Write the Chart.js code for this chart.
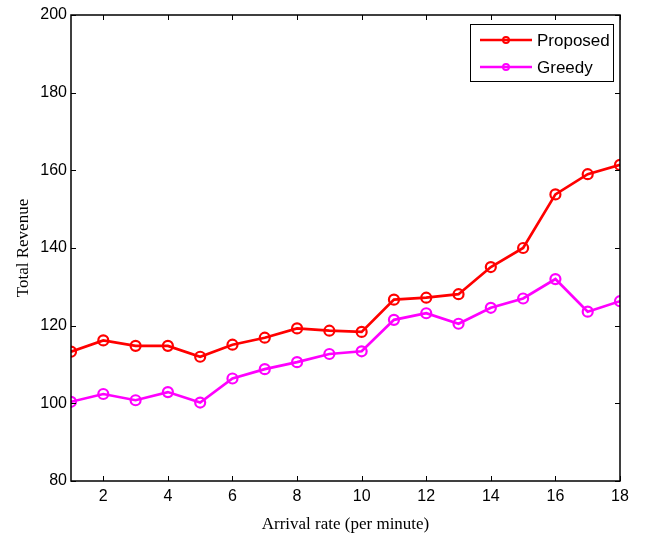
<!DOCTYPE html>
<html><head><meta charset="utf-8">
<script src="https://cdn.jsdelivr.net/npm/chart.js@4"></script>
<style>html,body{margin:0;padding:0;background:#fff}#wrap{width:649px;height:535px}</style>
</head><body><div id="wrap"><canvas id="c" width="649" height="535"></canvas></div>
<script>
const arrivalRates = [1,2,3,4,5,6,7,8,9,10,11,12,13,14,15,16,17,18];
const proposed = [113.3,116.2,114.8,114.8,112.0,115.1,116.9,119.3,118.7,118.4,126.7,127.2,128.1,135.1,140.0,153.8,159.0,161.4];
const greedy = [100.4,102.4,100.8,102.9,100.2,106.4,108.8,110.6,112.7,113.4,121.5,123.2,120.5,124.6,127.0,132.0,123.6,126.3];
const xTicks = [2,4,6,8,10,12,14,16,18];
const yTicks = [80,100,120,140,160,180,200];
const seriesNames = ['Proposed','Greedy'];
const seriesColors = ['#ff0000','#ff00ff'];

const toPts = arr => arr.map((v,i)=>({x:arrivalRates[i],y:v}));

const frame = {
  id:'frame',
  afterDraw(chart){
    const {ctx, chartArea:a, scales:{x,y}} = chart;
    ctx.save();
    ctx.strokeStyle='#000'; ctx.lineWidth=1;
    const tl=5;
    ctx.beginPath();
    xTicks.forEach(v=>{const px=Math.round(x.getPixelForValue(v))+0.5;
      ctx.moveTo(px,a.bottom);ctx.lineTo(px,a.bottom-tl);
      ctx.moveTo(px,a.top);ctx.lineTo(px,a.top+tl);});
    yTicks.forEach(v=>{const py=Math.round(y.getPixelForValue(v))+0.5;
      ctx.moveTo(a.left,py);ctx.lineTo(a.left+tl,py);
      ctx.moveTo(a.right,py);ctx.lineTo(a.right-tl,py);});
    ctx.stroke();
    ctx.lineWidth=1.5;
    ctx.strokeRect(a.left,a.top,a.right-a.left,a.bottom-a.top);
    // legend
    const lx=470, ly=24, lw=143, lh=57;
    ctx.fillStyle='#fff'; ctx.fillRect(lx,ly,lw,lh);
    ctx.lineWidth=1; ctx.strokeStyle='#000';
    ctx.strokeRect(lx+0.5,ly+0.5,lw,lh);
    ctx.font='17px "Liberation Sans", Arial, sans-serif';
    ctx.textBaseline='middle'; ctx.textAlign='left';
    chart.data.datasets.forEach((ds,i)=>{
      const cy = ly+16+i*27;
      ctx.strokeStyle=ds.borderColor; ctx.lineWidth=2.5;
      ctx.beginPath();ctx.moveTo(480,cy);ctx.lineTo(532,cy);ctx.stroke();
      ctx.lineWidth=2;
      ctx.beginPath();ctx.arc(506,cy,3,0,Math.PI*2);ctx.stroke();
      ctx.fillStyle='#000';
      ctx.fillText(ds.label,537,cy+1);
    });
    ctx.restore();
  }
};

new Chart(document.getElementById('c'),{
  type:'line',
  data:{datasets:[
    {label:seriesNames[0],data:toPts(proposed),borderColor:seriesColors[0],backgroundColor:'rgba(0,0,0,0)',borderWidth:2.7,pointRadius:5,pointBorderWidth:2.2,pointBackgroundColor:'rgba(0,0,0,0)',pointBorderColor:seriesColors[0],tension:0},
    {label:seriesNames[1],data:toPts(greedy),borderColor:seriesColors[1],backgroundColor:'rgba(0,0,0,0)',borderWidth:2.7,pointRadius:5,pointBorderWidth:2.2,pointBackgroundColor:'rgba(0,0,0,0)',pointBorderColor:seriesColors[1],tension:0}
  ]},
  options:{
    responsive:false,animation:false,devicePixelRatio:1,
    layout:{padding:{left:13,top:15,right:29,bottom:0}},
    plugins:{legend:{display:false},tooltip:{enabled:false}},
    scales:{
      x:{type:'linear',min:1,max:18,
        afterBuildTicks:s=>{s.ticks=xTicks.map(v=>({value:v}));},
        afterFit:s=>{s.height=54;},
        grid:{display:false,drawTicks:false},border:{display:false},
        ticks:{color:'#000',padding:6,font:{family:'"Liberation Sans", Arial, sans-serif',size:16},maxRotation:0},
        title:{display:true,text:'Arrival rate (per minute)',color:'#000',font:{family:'"Liberation Serif", "Times New Roman", serif',size:17},padding:{top:2,bottom:0}}
      },
      y:{min:80,max:200,
        afterBuildTicks:s=>{s.ticks=yTicks.map(v=>({value:v}));},
        afterFit:s=>{s.width=58;},
        grid:{display:false,drawTicks:false},border:{display:false},
        ticks:{color:'#000',padding:4,font:{family:'"Liberation Sans", Arial, sans-serif',size:16}},
        title:{display:true,text:'Total Revenue',color:'#000',font:{family:'"Liberation Serif", "Times New Roman", serif',size:17},padding:{top:0,bottom:4}}
      }
    }
  },
  plugins:[frame]
});
</script></body></html>
